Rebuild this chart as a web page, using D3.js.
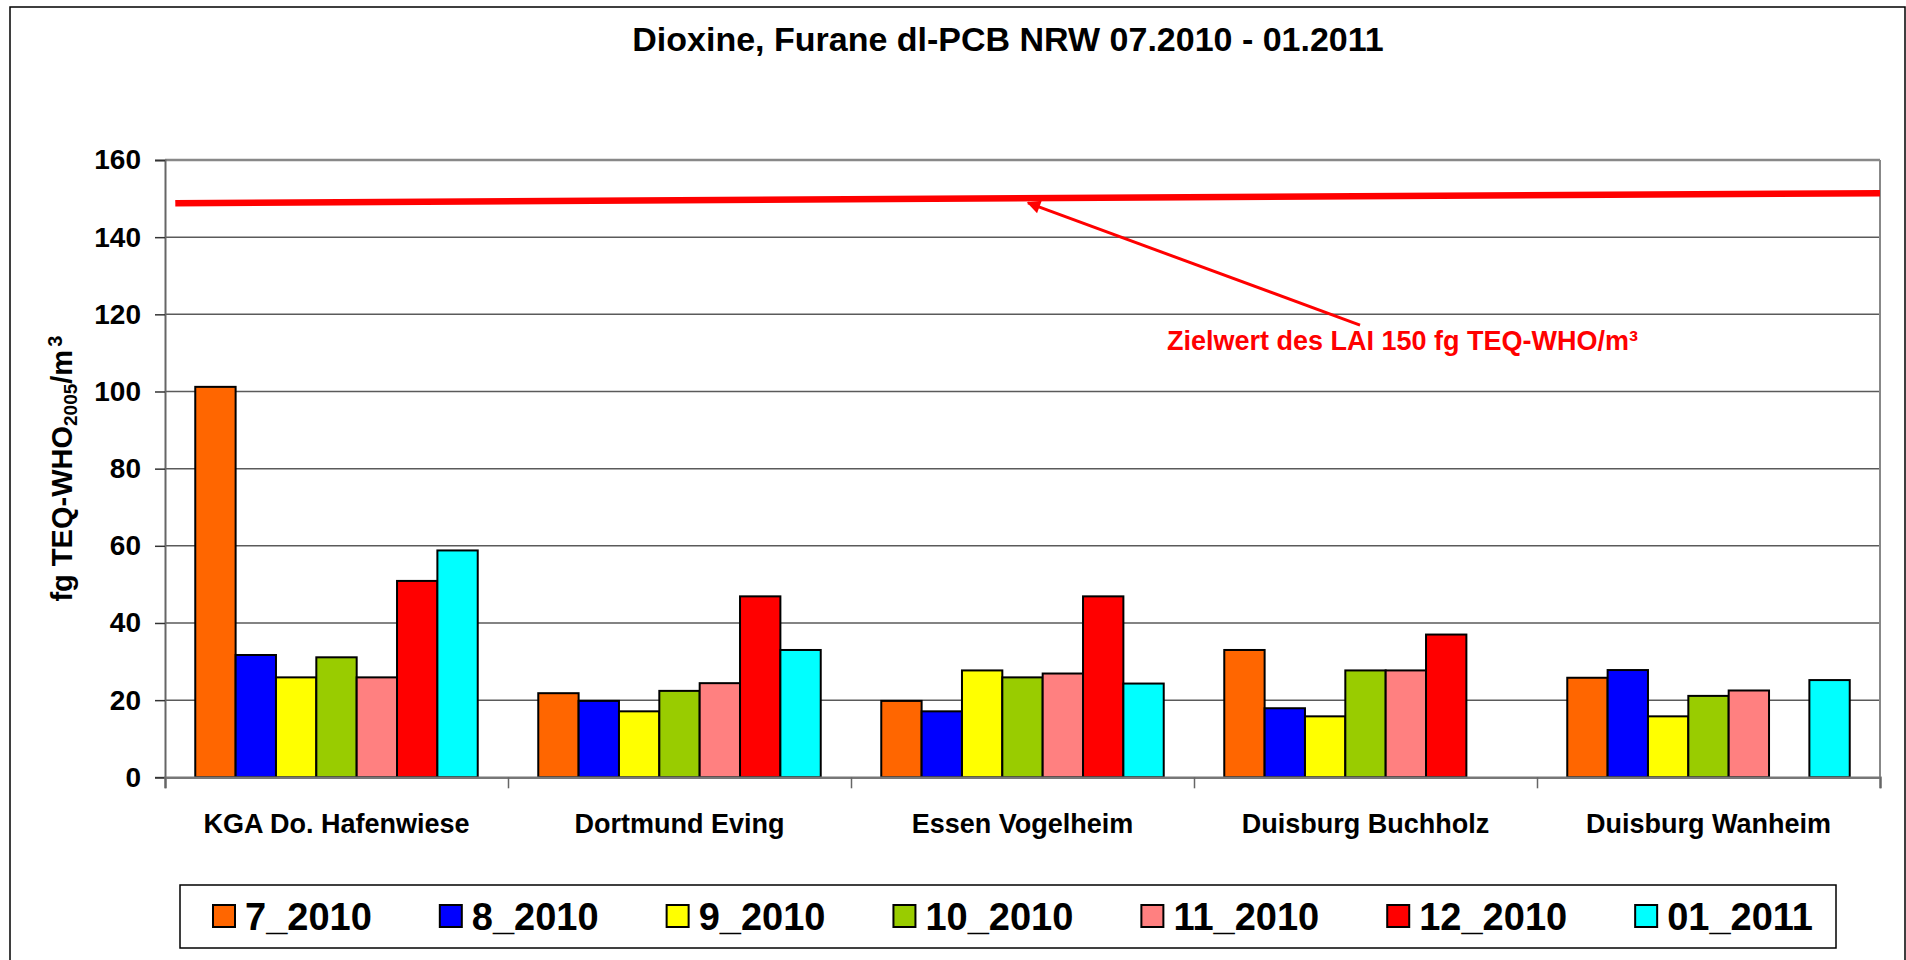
<!DOCTYPE html>
<html>
<head>
<meta charset="utf-8">
<script src="https://cdn.jsdelivr.net/npm/d3@7"></script>
<style>
  html, body { margin: 0; padding: 0; background: #fff; }
  svg { display: block; font-family: "Liberation Sans", Arial, sans-serif; font-weight: bold; }
</style>
</head>
<body>
<svg id="chart" width="1906" height="960"></svg>
<script>
// data
const categories = ['KGA Do. Hafenwiese', 'Dortmund Eving', 'Essen Vogelheim', 'Duisburg Buchholz', 'Duisburg Wanheim']
const seriesNames = ['7_2010', '8_2010', '9_2010', '10_2010', '11_2010', '12_2010', '01_2011']
const seriesColors = ['#ff6600', '#0000ff', '#ffff00', '#99cc00', '#ff8080', '#ff0000', '#00ffff']

const v7_2010  = [101.2, 21.8, 19.8, 33.0, 25.8]
const v8_2010  = [31.7, 19.8, 17.1, 17.9, 27.8]
const v9_2010  = [25.9, 17.1, 27.7, 15.8, 15.8]
const v10_2010 = [31.1, 22.4, 25.9, 27.7, 21.1]
const v11_2010 = [25.9, 24.4, 26.9, 27.7, 22.5]
const v12_2010 = [50.9, 46.9, 46.9, 37.0, null]
const v01_2011 = [58.8, 33.0, 24.3, null, 25.2]

const yTicks = [0, 20, 40, 60, 80, 100, 120, 140, 160]

// hand drawn target line (LAI 150) and its annotation, in category units / values
const targetLine = [[0.03, 148.8], [5, 151.4]]
const arrowLine  = [[3.484, 117.2], [2.516, 148.9]]
const annotation = {x: 2.921, y: 110.8, text: 'Zielwert des LAI 150 fg TEQ-WHO/m³'}

const title = 'Dioxine, Furane dl-PCB NRW 07.2010 - 01.2011'

const allValues = [v7_2010, v8_2010, v9_2010, v10_2010, v11_2010, v12_2010, v01_2011]
const bars = []
categories.forEach((cat, ci) => {
    seriesNames.forEach((s, si) => {
        const v = allValues[si][ci]
        if (v !== null) bars.push({cat, s, v, color: seriesColors[si]})
    })
})

const svg = d3.select('#chart')
const plot = {left: 165, right: 1880, top: 160, bottom: 777.3}

// outer frame
svg.append('rect')
    .attr('x', 10).attr('y', 7).attr('width', 1895).attr('height', 970)
    .attr('fill', 'white').attr('stroke', '#000').attr('stroke-width', 1.5)

const y = d3.scaleLinear().domain([0, 160]).range([plot.bottom, plot.top])
const x0 = d3.scaleBand().domain(categories).range([plot.left, plot.right]).padding(0)
const x1 = d3.scaleBand().domain(seriesNames).range([0, x0.bandwidth()])
    .paddingInner(0).paddingOuter(0.75)
const xc = d3.scaleLinear().domain([0, categories.length]).range([plot.left, plot.right])

// gridlines
svg.append('g').selectAll('line')
    .data(yTicks.filter(t => t > 0))
    .enter().append('line')
    .attr('x1', plot.left).attr('x2', plot.right)
    .attr('y1', d => y(d)).attr('y2', d => y(d))
    .attr('stroke', '#5a5a5a').attr('stroke-width', 1.5)

// plot area border right
svg.append('line')
    .attr('x1', plot.right).attr('x2', plot.right)
    .attr('y1', plot.top).attr('y2', plot.bottom)
    .attr('stroke', '#888').attr('stroke-width', 2)
svg.append('line')
    .attr('x1', plot.left).attr('x2', plot.right)
    .attr('y1', plot.top).attr('y2', plot.top)
    .attr('stroke', '#888').attr('stroke-width', 2.5)

// bars
svg.append('g').selectAll('rect')
    .data(bars)
    .enter().append('rect')
    .attr('x', d => x0(d.cat) + x1(d.s))
    .attr('width', x1.bandwidth())
    .attr('y', d => y(d.v))
    .attr('height', d => y(0) - y(d.v))
    .attr('fill', d => d.color)
    .attr('stroke', '#000').attr('stroke-width', 2)

// y axis
const yAxis = svg.append('g')
    .attr('transform', `translate(${plot.left},0)`)
    .call(d3.axisLeft(y).tickValues(yTicks).tickSize(10).tickPadding(14))
yAxis.select('.domain').attr('stroke', '#666').attr('stroke-width', 2)
yAxis.selectAll('.tick line').attr('stroke', '#333').attr('stroke-width', 1.5)
yAxis.selectAll('text')
    .attr('font-family', '"Liberation Sans", Arial, sans-serif')
    .attr('font-weight', 'bold').attr('font-size', 28).attr('fill', '#000')

// x axis: ticks between categories
const xAxis = svg.append('g')
    .attr('transform', `translate(0,${plot.bottom})`)
    .call(d3.axisBottom(xc).tickValues(d3.range(0, categories.length + 1)).tickSize(11).tickFormat(''))
xAxis.select('.domain').attr('stroke', '#777').attr('stroke-width', 2.5)
xAxis.selectAll('.tick line').attr('stroke', '#666').attr('stroke-width', 1.5)

// category labels
svg.append('g').selectAll('text')
    .data(categories)
    .enter().append('text')
    .attr('x', d => x0(d) + x0.bandwidth() / 2)
    .attr('y', 833)
    .attr('text-anchor', 'middle')
    .attr('font-size', 27)
    .text(d => d)

// target line
const line = d3.line().x(d => xc(d[0])).y(d => y(d[1]))
svg.append('path')
    .attr('d', line(targetLine))
    .attr('fill', 'none').attr('stroke', '#ff0000').attr('stroke-width', 6.5)

// arrow
svg.append('defs').append('marker')
    .attr('id', 'arrowhead')
    .attr('viewBox', '0 0 10 10').attr('refX', 9).attr('refY', 5)
    .attr('markerWidth', 5).attr('markerHeight', 4.5)
    .attr('markerUnits', 'strokeWidth')
    .attr('orient', 'auto')
    .append('path').attr('d', 'M0,0 L10,5 L0,10 Z').attr('fill', '#ff0000')
svg.append('path')
    .attr('d', line(arrowLine))
    .attr('fill', 'none').attr('stroke', '#ff0000').attr('stroke-width', 3)
    .attr('marker-end', 'url(#arrowhead)')

svg.append('text')
    .attr('x', xc(annotation.x)).attr('y', y(annotation.y))
    .attr('fill', '#ff0000').attr('font-size', 27)
    .text(annotation.text)

// title
svg.append('text')
    .attr('x', 1008).attr('y', 51)
    .attr('text-anchor', 'middle').attr('font-size', 34)
    .text(title)

// y axis title
const yTitle = svg.append('text')
    .attr('transform', `translate(72,${(plot.top + plot.bottom) / 2}) rotate(-90)`)
    .attr('text-anchor', 'middle').attr('font-size', 29)
yTitle.append('tspan').text('fg TEQ-WHO')
yTitle.append('tspan').attr('font-size', 19).attr('dy', 5).text('2005')
yTitle.append('tspan').attr('dy', -5).text('/m')
yTitle.append('tspan').attr('font-size', 20).attr('dy', -10).attr('dx', 3).text('3')

// legend
const legend = svg.append('g')
legend.append('rect')
    .attr('x', 180).attr('y', 885).attr('width', 1656).attr('height', 63)
    .attr('fill', 'white').attr('stroke', '#000').attr('stroke-width', 1.5)
let lx = 213
seriesNames.forEach((s, i) => {
    legend.append('rect')
        .attr('x', lx).attr('y', 905).attr('width', 22).attr('height', 22)
        .attr('fill', seriesColors[i]).attr('stroke', '#000').attr('stroke-width', 2)
    const t = legend.append('text')
        .attr('x', lx + 32).attr('y', 930)
        .attr('font-size', 38)
        .text(s)
    lx += 32 + t.node().getComputedTextLength() + 68
})
</script>
</body>
</html>
